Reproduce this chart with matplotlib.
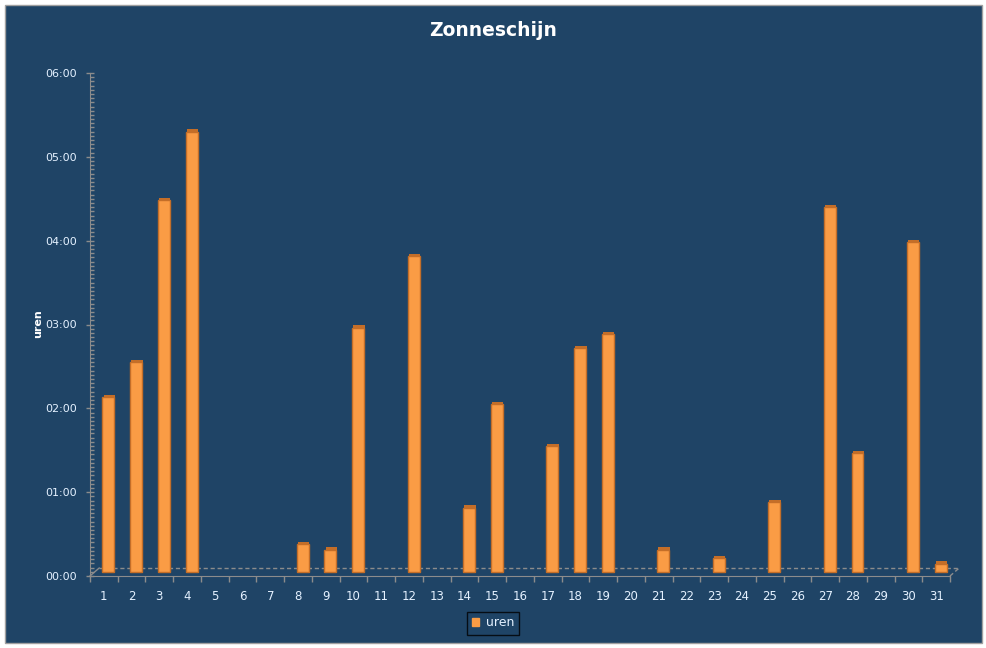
import matplotlib
matplotlib.use('Agg')
import matplotlib.pyplot as plt
from matplotlib.ticker import FixedLocator, FuncFormatter, MultipleLocator
from matplotlib.patches import Rectangle, Patch


days = list(range(1, 32))
# sunshine per day as hh:mm
uren = ['2:05', '2:30', '4:26', '5:15', '0:00', '0:00', '0:00', '0:20', '0:16', '2:55',
        '0:00', '3:46', '0:00', '0:46', '2:00', '0:00', '1:30', '2:40', '2:50', '0:00',
        '0:16', '0:00', '0:10', '0:00', '0:50', '0:00', '4:21', '1:25', '0:00', '3:56',
        '0:06']
y_ticks = [0, 1, 2, 3, 4, 5, 6]

bg = '#1F4466'
txt = '#E4F1FF'
grey = '#8C8C8C'
bar_face = '#FA9C45'
bar_edge = '#C46E28'

# 3d floor depth in data units (x categories, y hours)
depth_x = 0.33
depth_y = 0.095


def to_hours(s):
    h, m = s.split(':')
    return int(h) + int(m) / 60.0


def main():
    hours = [to_hours(u) for u in uren]
    # empty days get no bar at all
    bx = [d + depth_x / 2 for d, h in zip(days, hours) if h > 0]
    bh = [h for h in hours if h > 0]

    fig = plt.figure(figsize=(9.87, 6.48), dpi=100)
    fig.patch.set_facecolor('white')
    # chart area with thin grey border
    fig.patches.append(Rectangle((5 / 987, 5 / 648), 977 / 987, 638 / 648,
                                 transform=fig.transFigure, facecolor=bg,
                                 edgecolor='#A0A0A0', linewidth=1, zorder=-5))

    ax = fig.add_axes([90 / 987, 72 / 648, 860 / 987, 503 / 648])
    ax.set_zorder(2)
    ax.set_facecolor('none')
    ax.set_xlim(0.5, 31.5)
    ax.set_ylim(0, 6)

    # floor of the 3d plot
    x0, x1 = 0.5, 31.5
    ax.plot([x0 + depth_x, x1 + depth_x], [depth_y, depth_y], color=grey,
            ls=(0, (3, 2)), lw=1, clip_on=False, zorder=1)
    ax.plot([x1, x1 + depth_x], [0, depth_y], color=grey, ls=(0, (3, 2)),
            lw=1, clip_on=False, zorder=1)
    ax.plot([x0, x0 + depth_x], [0, depth_y], color=grey, lw=1,
            clip_on=False, zorder=1)

    # bars sit halfway in the depth
    ax.bar(bx, bh, width=0.43, bottom=depth_y / 2, color=bar_face,
           edgecolor=bar_edge, linewidth=1, zorder=3, clip_on=False)
    # darker cap on top of the bars
    ax.bar([b + 0.03 for b in bx], [0.03] * len(bh), width=0.41,
           bottom=[depth_y / 2 + h for h in bh], color=bar_edge, linewidth=0,
           zorder=4, clip_on=False)

    for s in ['top', 'right']:
        ax.spines[s].set_visible(False)
    ax.spines['left'].set_color(grey)
    ax.spines['bottom'].set_color(grey)

    ax.yaxis.set_major_locator(FixedLocator(y_ticks))
    ax.yaxis.set_major_formatter(FuncFormatter(lambda v, p: '%02d:00' % int(round(v))))
    ax.yaxis.set_minor_locator(MultipleLocator(0.05))
    ax.tick_params(axis='y', which='major', direction='inout', length=6, width=1,
                   color=grey, labelcolor=txt, labelsize=8, pad=6.5)
    ax.tick_params(axis='y', which='minor', direction='in', length=3, width=1,
                   color=grey)

    ax.set_xticks(days)
    ax.set_xticklabels([str(d) for d in days])
    ax.set_xticks([d + 0.5 for d in range(0, 32)], minor=True)
    ax.tick_params(axis='x', which='major', length=0, labelcolor=txt,
                   labelsize=8.5, pad=10)
    ax.tick_params(axis='x', which='minor', direction='out', length=4, width=1,
                   color=grey)

    fig.text(38 / 987, 1 - 324 / 648, 'uren', rotation=90, color='white',
             fontsize=8, fontweight='bold', ha='center', va='center')
    fig.text(493 / 987, 1 - 30 / 648, 'Zonneschijn', color='white',
             fontsize=13.5, fontweight='bold', ha='center', va='center')

    leg = fig.legend(handles=[Patch(facecolor=bar_face, edgecolor=bar_face, label='uren')],
                     loc='center', bbox_to_anchor=(493 / 987, 1 - 623 / 648),
                     frameon=True, fancybox=False, fontsize=9, handlelength=0.6,
                     handleheight=0.6, handletextpad=0.5, borderpad=0.4)
    leg.get_frame().set_facecolor(bg)
    leg.get_frame().set_edgecolor('black')
    leg.get_frame().set_linewidth(1)
    for t in leg.get_texts():
        t.set_color(txt)

    fig.savefig('out.png', dpi=100, facecolor=fig.get_facecolor())


if __name__ == '__main__':
    main()
